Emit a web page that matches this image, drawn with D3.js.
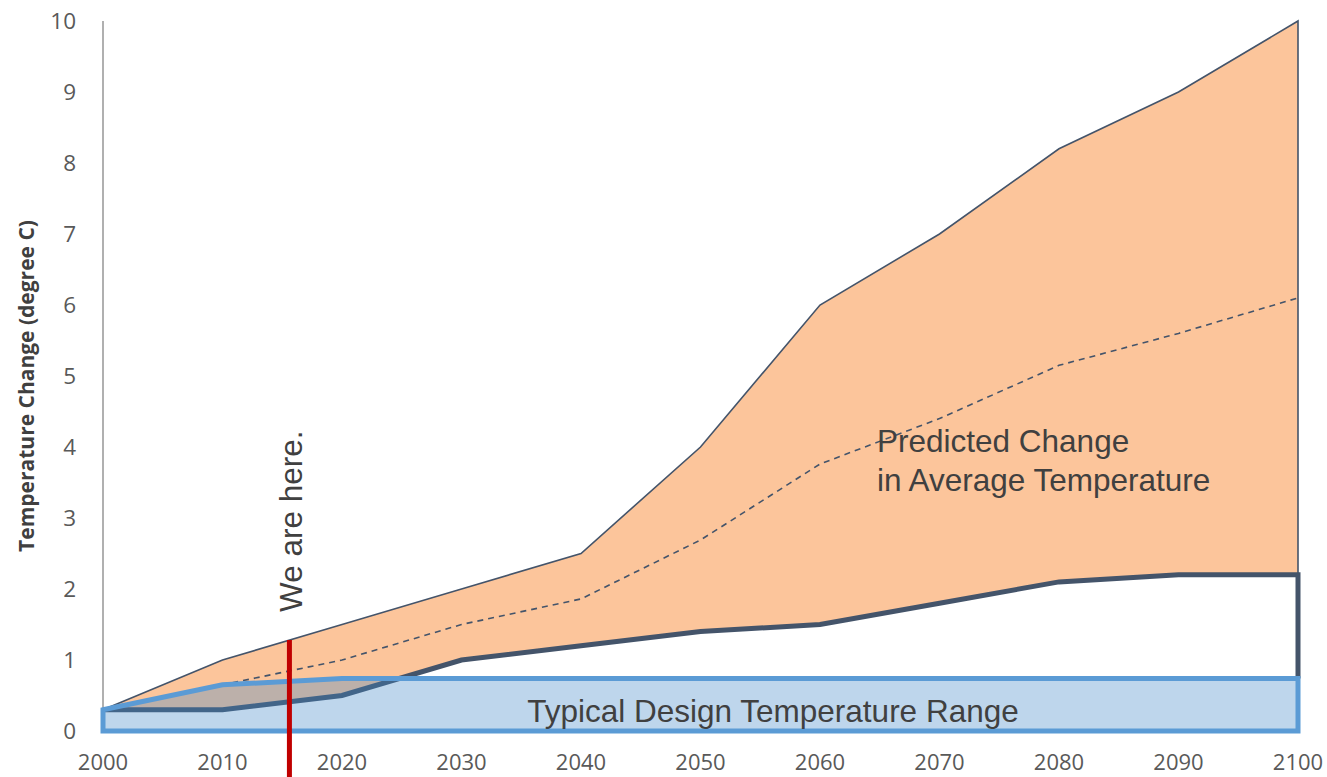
<!DOCTYPE html>
<html>
<head>
<meta charset="utf-8">
<script src="https://cdn.jsdelivr.net/npm/d3@7"></script>
<style>
  body { margin: 0; background: #fff; }
  svg { display: block; }
</style>
</head>
<body>
<svg id="chart"></svg>
<script>
// Data
const years      = [2000, 2010, 2020, 2030, 2040, 2050, 2060, 2070, 2080, 2090, 2100];
const upperTemp  = [0.3, 1.0, 1.5, 2.0, 2.5, 4.0, 6.0, 7.0, 8.2, 9.0, 10.0];
const medianTemp = [0.3, 0.65, 1.0, 1.5, 1.86, 2.69, 3.76, 4.4, 5.15, 5.6, 6.1];
const lowerTemp  = [0.3, 0.3, 0.5, 1.0, 1.2, 1.4, 1.5, 1.8, 2.1, 2.2, 2.2];
// design band top edge
const bandYears  = [2000, 2010, 2020, 2100];
const bandTop    = [0.3, 0.65, 0.74, 0.74];
const yTicks     = [0, 1, 2, 3, 4, 5, 6, 7, 8, 9, 10];
const nowYear    = 2015.6;

const width = 1327, height = 777;
const svg = d3.select("#chart").attr("width", width).attr("height", height);

const x = d3.scaleLinear().domain([2000, 2100]).range([103, 1298]);
const y = d3.scaleLinear().domain([0, 10]).range([731, 21]);

const dark = "#44546a";
const blue = "#5b9bd5";
const tickFont = "'Open Sans', Lato, sans-serif";
const noteFont = "'Liberation Sans', Arial, sans-serif";

// Orange range area
const rows = years.map((yr, i) => ({ yr, hi: upperTemp[i], mid: medianTemp[i], lo: lowerTemp[i] }));

svg.append("path")
  .datum(rows)
  .attr("fill", "#fcc59b")
  .attr("d", d3.area().x(d => x(d.yr)).y0(d => y(d.lo)).y1(d => y(d.hi)));

// Upper thin outline incl. right edge
svg.append("path")
  .attr("fill", "none")
  .attr("stroke", dark)
  .attr("stroke-width", 1.6)
  .attr("d", d3.line()(rows.map(d => [x(d.yr), y(d.hi)]).concat([[x(2100), y(lowerTemp[lowerTemp.length - 1])]])));

// Median dashed
svg.append("path")
  .datum(rows)
  .attr("fill", "none")
  .attr("stroke", dark)
  .attr("stroke-width", 1.6)
  .attr("stroke-dasharray", "6,5")
  .attr("d", d3.line().x(d => x(d.yr)).y(d => y(d.mid)));

// Lower thick line, drops at 2100 to band top
const lowerPts = rows.map(d => [x(d.yr), y(d.lo)]);
lowerPts.push([x(2100), y(bandTop[bandTop.length - 1])]);
svg.append("path")
  .attr("fill", "none")
  .attr("stroke", dark)
  .attr("stroke-width", 5)
  .attr("stroke-linejoin", "miter")
  .attr("d", d3.line()(lowerPts));

// Y axis line
svg.append("line")
  .attr("x1", x(2000)).attr("x2", x(2000))
  .attr("y1", y(10)).attr("y2", y(0))
  .attr("stroke", "#868686").attr("stroke-width", 1.3);

// Design temperature band
const bandPts = bandYears.map((yr, i) => [x(yr), y(bandTop[i])]);
bandPts.push([x(2100), y(0)], [x(2000), y(0)]);
svg.append("path")
  .attr("d", d3.line()(bandPts) + "Z")
  .attr("fill", "rgba(64,134,199,0.34)")
  .attr("stroke", blue)
  .attr("stroke-width", 5)
  .attr("stroke-linejoin", "miter");

// Y tick labels
svg.append("g")
  .selectAll("text")
  .data(yTicks)
  .join("text")
  .attr("x", 76)
  .attr("y", d => y(d))
  .attr("dy", "0.35em")
  .attr("text-anchor", "end")
  .attr("font-family", tickFont)
  .attr("font-size", 22.5)
  .attr("fill", "#595959")
  .text(d => d);

// X tick labels, kept just inside the bottom edge
svg.append("g")
  .selectAll("text")
  .data(years)
  .join("text")
  .attr("x", d => x(d))
  .attr("y", 770)
  .attr("text-anchor", "middle")
  .attr("font-family", tickFont)
  .attr("font-size", 22)
  .attr("fill", "#595959")
  .text(d => d);

// Y axis title
svg.append("text")
  .attr("transform", "translate(34,386) rotate(-90)")
  .attr("text-anchor", "middle")
  .attr("font-family", tickFont)
  .attr("font-weight", "bold")
  .attr("font-size", 21)
  .attr("fill", "#404040")
  .text("Temperature Change (degree C)");

// "We are here" marker
const nowTop = d3.interpolateNumber(upperTemp[1], upperTemp[2])((nowYear - 2010) / 10);
svg.append("line")
  .attr("x1", x(nowYear)).attr("x2", x(nowYear))
  .attr("y1", y(nowTop)).attr("y2", height)
  .attr("stroke", "#c00000").attr("stroke-width", 5);

svg.append("text")
  .attr("transform", `translate(${x(nowYear) + 13},612) rotate(-90)`)
  .attr("font-family", noteFont)
  .attr("font-size", 31.5)
  .attr("fill", "#404040")
  .text("We are here.");

// Annotations
const note = svg.append("text")
  .attr("font-family", noteFont)
  .attr("font-size", 31.5)
  .attr("fill", "#404040");
note.append("tspan").attr("x", 877).attr("y", 452).text("Predicted Change");
note.append("tspan").attr("x", 877).attr("y", 491).text("in Average Temperature");

svg.append("text")
  .attr("x", 773)
  .attr("y", 722)
  .attr("text-anchor", "middle")
  .attr("font-family", noteFont)
  .attr("font-size", 31.5)
  .attr("fill", "#404040")
  .text("Typical Design Temperature Range");
</script>
</body>
</html>
